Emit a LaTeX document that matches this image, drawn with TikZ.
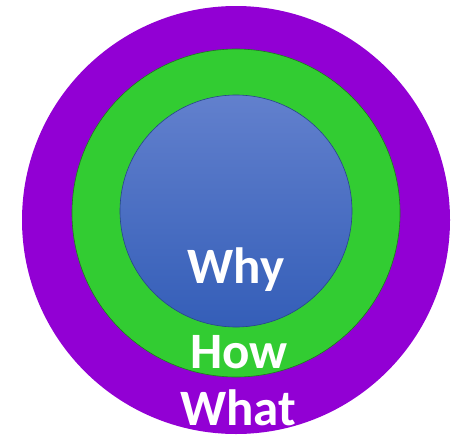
\documentclass[tikz,border=0pt]{standalone}
\usepackage{fontspec}
\setmainfont{Carlito}
\usepackage{tikz}

\definecolor{whatpurple}{RGB}{146,0,212}
\definecolor{howgreen}{RGB}{50,204,50}
\definecolor{whytop}{RGB}{98,128,205}
\definecolor{whybot}{RGB}{52,94,184}

\begin{document}
\begin{tikzpicture}[
      x=1pt,
      y=-1pt,
      inner sep=0pt,
      ring/.style={circle,minimum size=#1},
      word/.style={anchor=base,text=white,font=\fontsize{51}{60}\selectfont\bfseries}
    ]
    \useasboundingbox (0,0) rectangle (454,439);
    \node (what) [ring=428pt,fill=whatpurple] at (236,220) {};
    \node (how) [ring=328pt,fill=howgreen,draw=black!40!howgreen,line width=0.6pt] at (236,213) {};
    \node (why) [ring=232pt,top color=whytop,bottom color=whybot,draw=black!25!whybot,line width=0.6pt] at (236,211) {};
    \node (whytext) [word] at (236,283) {Why};
    \node (howtext) [word] at (239,368) {How};
    \node (whattext) [word] at (238,425) {What};
  \end{tikzpicture}
\end{document}
